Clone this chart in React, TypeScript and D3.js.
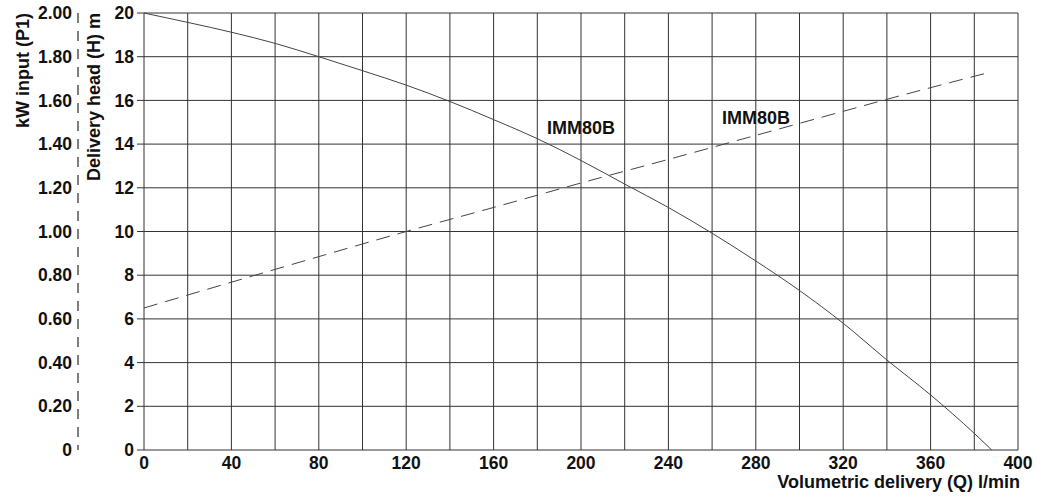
import { scaleLinear, line, curveMonotoneX } from 'd3';

// head curve H (m) against flow Q (l/min)
const headCurve: [number, number][] = [
  [0, 20], [20, 19.57], [40, 19.12], [60, 18.61], [80, 18.0], [100, 17.36],
  [120, 16.7], [140, 15.95], [160, 15.12], [180, 14.25], [200, 13.25],
  [220, 12.17], [240, 11.1], [260, 9.92], [280, 8.65], [300, 7.3],
  [320, 5.8], [340, 4.12], [360, 2.52], [380, 0.76], [388, 0],
];

// power input P1 (kW) against flow Q (l/min)
const powerCurve: [number, number][] = [
  [0, 0.65], [40, 0.768], [80, 0.885], [120, 1.0], [160, 1.11], [200, 1.222],
  [240, 1.33], [280, 1.44], [320, 1.55], [340, 1.605], [388, 1.731],
];

const flowTicks = [0, 40, 80, 120, 160, 200, 240, 280, 320, 360, 400];
const headTicks = [0, 2, 4, 6, 8, 10, 12, 14, 16, 18, 20];
const powerTicks = ['0', '0.20', '0.40', '0.60', '0.80', '1.00', '1.20', '1.40', '1.60', '1.80', '2.00'];

const gridQ = Array.from({ length: 21 }, (_, i) => i * 20);

const W = 1047, H = 497;
const font = '"Liberation Sans", Arial, sans-serif';

export default function App() {
  const x = scaleLinear().domain([0, 400]).range([144, 1018]);
  const y = scaleLinear().domain([0, 20]).range([450, 13]);
  const yk = scaleLinear().domain([0, 2]).range([450, 13]);

  const headPath = line<[number, number]>()
    .x((d) => x(d[0]))
    .y((d) => y(d[1]))
    .curve(curveMonotoneX)(headCurve);
  const powerPath = line<[number, number]>()
    .x((d) => x(d[0]))
    .y((d) => yk(d[1]))
    .curve(curveMonotoneX)(powerCurve);

  return (
    <svg
      width={W}
      height={H}
      style={{ position: 'absolute', left: 0, top: 0, background: '#fff' }}
      fontFamily={font}
      fontWeight="bold"
    >
      {/* grid */}
      <g stroke="#333" strokeWidth={1}>
        {gridQ.map((q) => (
          <line key={'v' + q} x1={x(q)} x2={x(q)} y1={y(20)} y2={y(0)} />
        ))}
        {headTicks.map((h) => (
          <line key={'h' + h} x1={x(0)} x2={x(400)} y1={y(h)} y2={y(h)} />
        ))}
        {headTicks.map((h) => (
          <line key={'t' + h} x1={x(0) - 7} x2={x(0)} y1={y(h)} y2={y(h)} />
        ))}
      </g>

      {/* kW axis */}
      <line x1={78} x2={78} y1={yk(2)} y2={yk(0)} stroke="#555" strokeWidth={1.5} strokeDasharray="10 8" />
      <g fontSize={17.5} fill="#111" textAnchor="end">
        {powerTicks.map((t, i) => (
          <text key={t} x={72} y={yk(i * 0.2)} dy="0.35em">{t}</text>
        ))}
        {headTicks.map((h) => (
          <text key={h} x={134} y={y(h)} dy="0.35em">{h}</text>
        ))}
      </g>
      <g fontSize={17.5} fill="#111" textAnchor="middle">
        {flowTicks.map((q) => (
          <text key={q} x={x(q)} y={469}>{q}</text>
        ))}
      </g>

      {/* axis titles */}
      <text transform="translate(29,13) rotate(-90)" textAnchor="end" fontSize={18} fill="#111">kW input (P1)</text>
      <text transform="translate(100,13) rotate(-90)" textAnchor="end" fontSize={18} fill="#111">Delivery head (H) m</text>
      <text x={1020} y={488} textAnchor="end" fontSize={18} fill="#111">Volumetric delivery (Q) l/min</text>

      {/* curves */}
      <path d={headPath ?? ''} fill="none" stroke="#444" strokeWidth={1} />
      <path d={powerPath ?? ''} fill="none" stroke="#444" strokeWidth={1} strokeDasharray="14 8" />

      <text x={547} y={134} fontSize={18} fill="#111">IMM80B</text>
      <text x={722} y={124} fontSize={18} fill="#111">IMM80B</text>
    </svg>
  );
}
